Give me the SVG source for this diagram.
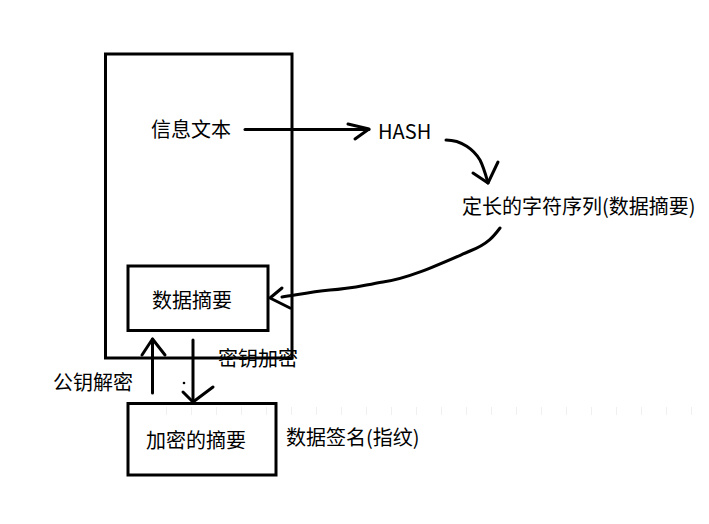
<svg xmlns="http://www.w3.org/2000/svg" width="709" height="524" viewBox="0 0 709 524">
<style>
.box{fill:none;stroke:#000;stroke-width:3}
.ln{fill:none;stroke:#000;stroke-width:3;stroke-linecap:round;stroke-linejoin:round}
.t{font-family:"Noto Sans CJK SC","Microsoft YaHei",sans-serif;font-size:20px;fill:#000}
</style>
<rect width="709" height="524" fill="#fff"/>
<line x1="166" y1="411" x2="696" y2="411" stroke="#f0f0f0" stroke-width="8" stroke-dasharray="1 24"/>
<g id="main">
<rect class="box" x="105.5" y="54" width="186.5" height="304"/>
<text class="t" x="151" y="137">信息文本</text>
</g>
<g id="hash"><text class="t" x="378" y="139" font-family="'Noto Sans','Microsoft YaHei',sans-serif">HASH</text></g>
<g id="fixed"><text class="t" x="462" y="214">定长的字符序列(数据摘要)</text></g>
<g id="digest">
<rect class="box" x="128" y="266" width="140" height="64.5"/>
<text class="t" x="152" y="308">数据摘要</text>
</g>
<g id="encrypted">
<rect class="box" x="128" y="403.5" width="148" height="71.5"/>
<text class="t" x="146" y="448">加密的摘要</text>
</g>
<g id="labels">
<text class="t" x="286" y="445">数据签名(指纹)</text>
<text class="t" x="53" y="390">公钥解密</text>
<text class="t" x="218" y="366">密钥加密</text>
</g>
<g id="connectors">
<path class="ln" d="M245 129.5 L369 129.5"/>
<path class="ln" d="M348 124 L369 129 L355 139"/>
<path class="ln" d="M446 140 C462 140 474 150 480 160 C484 168 486 176 488 183"/>
<path class="ln" d="M473 173 L488 183 L498 162"/>
<path class="ln" d="M500 228 C494 236 488 244 470 251 C440 264 410 278 383 282 C360 286 350 289 330 290 C310 292 296 295 282 297"/>
<path class="ln" d="M282 288 L270 298 L290 308"/>
<path class="ln" d="M152.5 393 L152.5 339"/>
<path class="ln" d="M142 355 L152.5 339 L165 355"/>
<path class="ln" d="M193 340 L193 402"/>
<path class="ln" d="M183 392 L193 402 L213 387"/>
<circle cx="184" cy="383" r="1.3" fill="#000"/>
</g>
</svg>
